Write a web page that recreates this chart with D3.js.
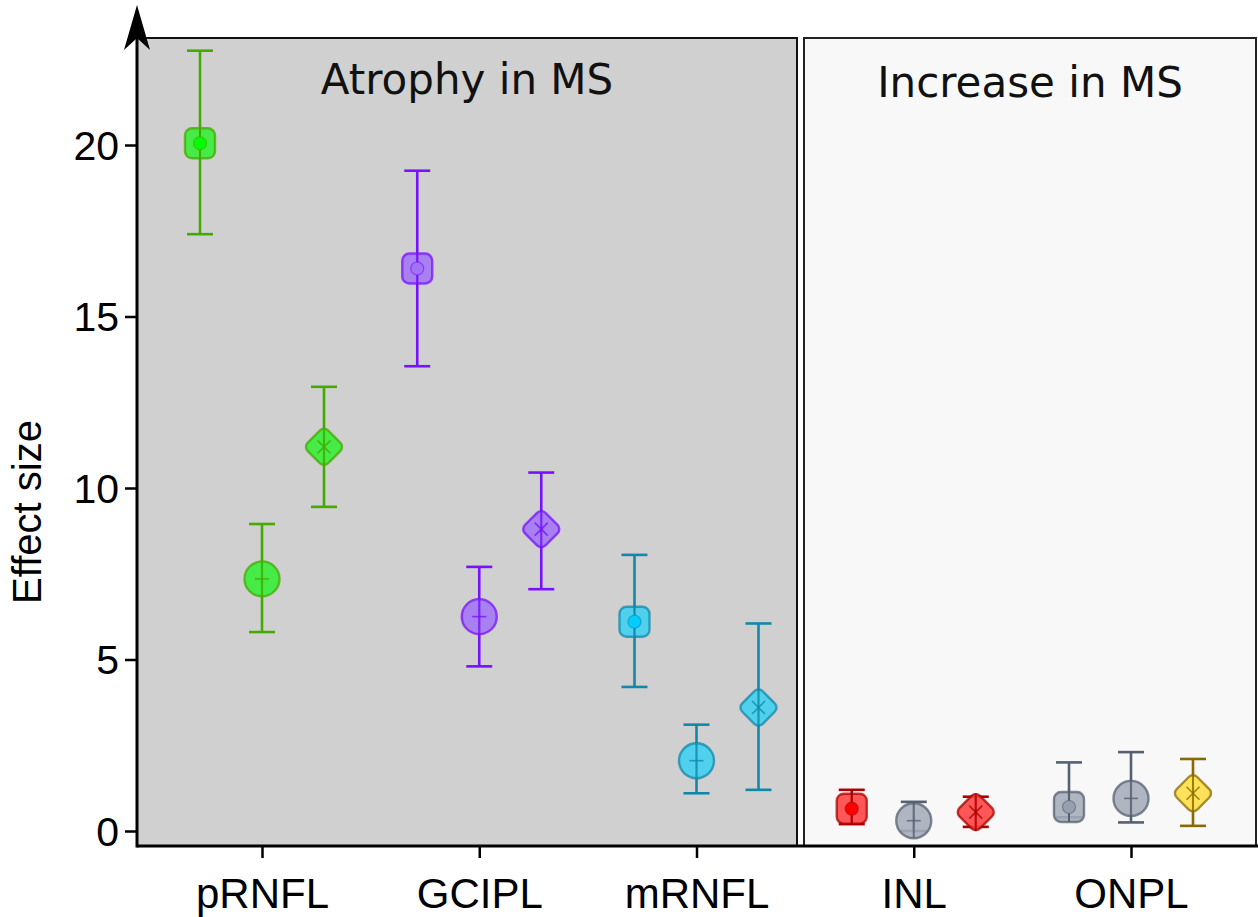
<!DOCTYPE html>
<html><head><meta charset="utf-8">
<script src="https://cdn.jsdelivr.net/npm/d3@7"></script>
<style>body{margin:0;background:#fff}svg{display:block}</style>
</head><body>
<svg id="c" width="1258" height="917"></svg>
<script>
const categories = ["pRNFL","GCIPL","mRNFL","INL","ONPL"];
const seriesKeys = ["square","circle","diamond"];
const yTicks = [0,5,10,15,20];
const panelTitles = ["Atrophy in MS","Increase in MS"];

// series values (mean, lower CI, upper CI) per category
const squareMean = [20.05, 16.4, 6.1, 0.65, 0.7];
const squareLo   = [17.4, 13.55, 4.2, 0.2, 0.4];
const squareHi   = [22.75, 19.25, 8.05, 1.2, 2.0];
const circleMean = [7.35, 6.25, 2.05, 0.3, 0.95];
const circleLo   = [5.8, 4.8, 1.1, 0.0, 0.25];
const circleHi   = [8.95, 7.7, 3.1, 0.85, 2.3];
const diamondMean = [11.2, 8.8, 3.6, 0.55, 1.1];
const diamondLo   = [9.45, 7.05, 1.2, 0.12, 0.15];
const diamondHi   = [12.95, 10.45, 6.05, 1.0, 2.1];

// colour keys per point
const squareColor  = ["green","purple","cyan","red","gray"];
const circleColor  = ["green","purple","cyan","gray","gray"];
const diamondColor = ["green","purple","cyan","red","yellow"];

const palette = {
  green:  {fill:"#33ee33", stroke:"#44aa00", dot:"#00ff00"},
  purple: {fill:"#a274f5", stroke:"#7711ff", dot:"#a274f5"},
  cyan:   {fill:"#3ccff0", stroke:"#1188aa", dot:"#00ccff"},
  red:    {fill:"#ff4040", stroke:"#aa0000", dot:"#ff0000"},
  gray:   {fill:"#a4acba", stroke:"#556070", dot:"#95a0b0"},
  yellow: {fill:"#ffdd44", stroke:"#8a6a00", dot:"#ffdd44"}
};

const svg = d3.select("#c");
const pL = 137, pR = 1256, pT = 38, pB = 846;

const x = d3.scalePoint().domain(categories).range([262, 1131]);
const off = d3.scalePoint().domain(seriesKeys).range([-62, 62]);
const y = d3.scaleLinear().domain([0,20]).range([831, 145]);

// panels
svg.append("rect").attr("x", pL).attr("y", pT).attr("width", 797-pL).attr("height", pB-pT)
  .attr("fill","#d0d0d0").attr("stroke","#111").attr("stroke-width",2);
svg.append("rect").attr("x", 804).attr("y", pT).attr("width", pR-804).attr("height", pB-pT)
  .attr("fill","#f8f8f8").attr("stroke","#222").attr("stroke-width",2);

svg.append("text").attr("x", 467).attr("y", 94).attr("text-anchor","middle")
  .attr("font-family","DejaVu Sans").attr("font-size",42).attr("fill","#111").text(panelTitles[0]);
svg.append("text").attr("x", 1030).attr("y", 97).attr("text-anchor","middle")
  .attr("font-family","DejaVu Sans").attr("font-size",42).attr("fill","#111").text(panelTitles[1]);

// data rows
const rows = [];
categories.forEach((c,i)=>{
  rows.push({cat:c, s:"square", m:squareMean[i], lo:squareLo[i], hi:squareHi[i], col:palette[squareColor[i]]});
  rows.push({cat:c, s:"circle", m:circleMean[i], lo:circleLo[i], hi:circleHi[i], col:palette[circleColor[i]]});
  rows.push({cat:c, s:"diamond", m:diamondMean[i], lo:diamondLo[i], hi:diamondHi[i], col:palette[diamondColor[i]]});
});

const g = svg.append("g").selectAll("g").data(rows).join("g")
  .attr("transform", d=>`translate(${x(d.cat)+off(d.s)},0)`);

// error bars
g.append("line").attr("x1",0).attr("x2",0).attr("y1",d=>y(d.lo)).attr("y2",d=>y(d.hi))
  .attr("stroke",d=>d.col.stroke).attr("stroke-width",2.6);
g.append("line").attr("x1",-13).attr("x2",13).attr("y1",d=>y(d.hi)).attr("y2",d=>y(d.hi))
  .attr("stroke",d=>d.col.stroke).attr("stroke-width",2.6);
g.append("line").attr("x1",-13).attr("x2",13).attr("y1",d=>y(d.lo)).attr("y2",d=>y(d.lo))
  .attr("stroke",d=>d.col.stroke).attr("stroke-width",2.6);

// markers
g.each(function(d){
  const s = d3.select(this).append("g").attr("transform",`translate(0,${y(d.m)})`);
  if (d.s === "square") {
    s.append("rect").attr("x",-15).attr("y",-15).attr("width",30).attr("height",30).attr("rx",7)
      .attr("fill",d.col.fill).attr("fill-opacity",0.88).attr("stroke",d.col.stroke).attr("stroke-opacity",0.75).attr("stroke-width",2.4);
    s.append("line").attr("y1",-15).attr("y2",15).attr("stroke",d.col.stroke).attr("stroke-width",2);
    s.append("circle").attr("r",6.5).attr("fill",d.col.dot).attr("stroke",d.col.stroke).attr("stroke-opacity",0.6).attr("stroke-width",1.2);
  } else if (d.s === "circle") {
    s.append("circle").attr("r",17.5)
      .attr("fill",d.col.fill).attr("fill-opacity",0.88).attr("stroke",d.col.stroke).attr("stroke-opacity",0.75).attr("stroke-width",2.4);
    s.append("line").attr("y1",-17).attr("y2",17).attr("stroke",d.col.stroke).attr("stroke-width",2).attr("stroke-opacity",0.8);
    s.append("line").attr("x1",-7).attr("x2",7).attr("stroke",d.col.stroke).attr("stroke-width",1.6).attr("stroke-opacity",0.8);
  } else {
    s.append("rect").attr("x",-14.5).attr("y",-14.5).attr("width",29).attr("height",29).attr("rx",6)
      .attr("transform","rotate(45)")
      .attr("fill",d.col.fill).attr("fill-opacity",0.88).attr("stroke",d.col.stroke).attr("stroke-opacity",0.75).attr("stroke-width",2.4);
    s.append("line").attr("y1",-19).attr("y2",19).attr("stroke",d.col.stroke).attr("stroke-width",2).attr("stroke-opacity",0.8);
    s.append("path").attr("d","M-6.5,-6.5L6.5,6.5M-6.5,6.5L6.5,-6.5").attr("stroke",d.col.stroke).attr("stroke-width",1.6).attr("stroke-opacity",0.8);
  }
});

// y axis
const yAxis = d3.axisLeft(y).tickValues(yTicks).tickSize(12).tickPadding(6).tickFormat(d3.format("d"));
const ya = svg.append("g").attr("transform",`translate(${pL},0)`).call(yAxis);
ya.select(".domain").remove();
ya.selectAll(".tick line").attr("stroke","#000").attr("stroke-width",2.5);
ya.selectAll(".tick text").attr("font-family","Liberation Sans, Arial").attr("font-size",41).attr("fill","#000").attr("dy","0.35em");
svg.append("line").attr("x1",pL).attr("x2",pL).attr("y1",pB+1.5).attr("y2",30).attr("stroke","#000").attr("stroke-width",3);
svg.append("path").attr("d",`M${pL},5L${pL+13},50L${pL},38L${pL-13},50Z`).attr("fill","#000");

// x axis
const xAxis = d3.axisBottom(x).tickSize(12).tickPadding(20);
const xa = svg.append("g").attr("transform",`translate(0,${pB})`).call(xAxis);
xa.select(".domain").remove();
xa.selectAll(".tick line").attr("stroke","#000").attr("stroke-width",2.5);
xa.selectAll(".tick text").attr("font-family","Liberation Sans, Arial").attr("font-size",42).attr("fill","#000");
svg.append("line").attr("x1",pL).attr("x2",pR+2).attr("y1",pB).attr("y2",pB).attr("stroke","#000").attr("stroke-width",3);

svg.append("text").attr("transform","translate(41,512) rotate(-90)").attr("text-anchor","middle")
  .attr("font-family","Liberation Sans, Arial").attr("font-size",40).attr("fill","#000").text("Effect size");
</script>
</body></html>
